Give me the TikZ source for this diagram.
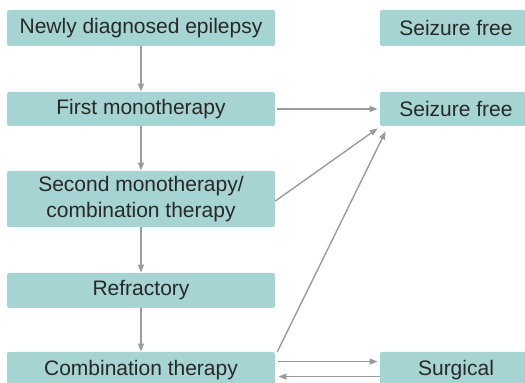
\documentclass[tikz,border=0pt]{standalone}
\usepackage{fontspec}
\setmainfont{Liberation Sans}
\usetikzlibrary{arrows.meta,positioning,calc}
\definecolor{cBox}{RGB}{166,212,210}
\definecolor{cText}{RGB}{40,40,40}
\definecolor{cArrow}{RGB}{155,155,155}

\tikzset{
  stagebox/.style={fill=cBox, rounded corners=1pt, text=cText, font=\fontsize{10.5}{13}\selectfont,
    minimum width=134pt, align=center, inner sep=0pt},
  outbox/.style={stagebox, minimum width=76pt},
  arr/.style={draw=cArrow, line width=0.7pt, -{Triangle[length=4pt,width=3pt]}}
}

\begin{document}
\begin{tikzpicture}[x=0.5pt, y=0.5pt]
  \useasboundingbox (0,0) rectangle (525,383);
  % left column
  \node[stagebox, minimum height=18pt] (newly) at (141,355) {Newly diagnosed epilepsy};
  \node[stagebox, minimum height=17pt] (first) at (141,274) {First monotherapy};
  \node[stagebox, minimum height=28pt] (second) at (141,184) {Second monotherapy/\\combination therapy};
  \node[stagebox, minimum height=17.5pt] (refr) at (141,92.5) {Refractory};
  \node[stagebox, minimum height=18pt] (combo) at (141,13) {Combination therapy};
  % right column
  \node[outbox, minimum height=18pt] (free1) at (456,355) {Seizure free};
  \node[outbox, minimum height=17pt] (free2) at (456,274) {Seizure free};
  \node[outbox, minimum height=18pt] (surg) at (456,13) {Surgical};
  % connectors
  \draw[arr] (newly) -- (first);
  \draw[arr] (first) -- (second);
  \draw[arr] (second) -- (refr);
  \draw[arr] (refr) -- (combo);
  \draw[arr] ([xshift=1pt]first.east) -- ([xshift=-1pt]free2.west);
  \draw[arr] ([yshift=-1pt]second.east) -- ([xshift=-1pt,yshift=-1pt]free2.south west);
  \draw[arr] ([xshift=1pt]combo.north east) -- ([xshift=3pt,yshift=-2.5pt]free2.south west);
  \draw[arr] ([xshift=1.5pt,yshift=-5pt]combo.north east) -- ([xshift=-1pt,yshift=-5pt]surg.north west);
  \draw[arr] ([yshift=-12.5pt]surg.north west) -- ([xshift=1.5pt,yshift=-12.5pt]combo.north east);
\end{tikzpicture}
\end{document}
